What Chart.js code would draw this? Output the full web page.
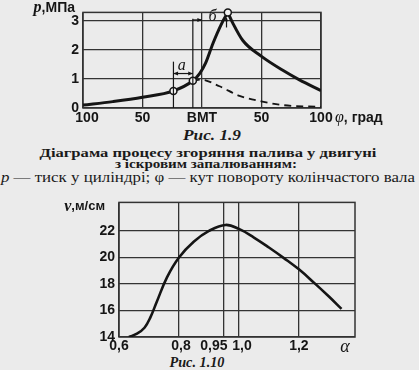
<!DOCTYPE html>
<html>
<head>
<meta charset="utf-8">
<script src="https://cdn.jsdelivr.net/npm/chart.js@4.4.1/dist/chart.umd.min.js"></script>
<style>
  html, body { margin: 0; padding: 0; }
  body { width: 419px; height: 370px; background: #ebebeb; position: relative; overflow: hidden;
         font-family: "Liberation Serif", serif; color: #1a1a1a; }
  .box { position: absolute; left: 0; width: 419px; }
  #box1 { top: 0; height: 130px; }
  #box2 { top: 190px; height: 180px; }
  .cap { position: absolute; white-space: nowrap; line-height: 1; }
</style>
</head>
<body>
<div class="cap" data-x="212" data-y="135" data-w="58" data-s="15" style="font-weight:bold;font-style:italic">Рис. 1.9</div>
<div class="cap" data-x="208" data-y="152.5" data-w="337" data-s="13.5" style="font-weight:bold">Діаграма процесу згоряння палива у двигуні</div>
<div class="cap" data-x="206" data-y="164" data-w="182" data-s="13.5" style="font-weight:bold">з іскровим запалюванням:</div>
<div class="cap" data-x="208" data-y="176.5" data-w="414" data-s="14.5"><i>p</i> — тиск у циліндрі; φ — кут повороту колінчастого вала</div>
<div class="cap" data-x="197" data-y="363" data-w="55" data-s="14" style="font-weight:bold;font-style:italic">Рис. 1.10</div>

<div class="box" id="box1"><canvas id="c1"></canvas></div>
<div class="box" id="box2"><canvas id="c2"></canvas></div>

<script>
// ---- Рис. 1.9: тиск p (МПа) від кута φ (град) ----
const phiRise = [-100, -75, -50, -24, -7.7, -2, 3, 9.1, 16.1, 21.7];
const pRise   = [0.1, 0.22, 0.37, 0.59, 0.94, 1.19, 1.55, 2.22, 2.88, 3.3];
const phiFall = [21.7, 25.9, 34.3, 49.7, 67.9, 81.9, 100];
const pFall   = [3.3, 2.93, 2.33, 1.79, 1.30, 0.97, 0.6];
const phiDash = [-7.7, -0.7, 14.7, 31.5, 49.7, 67.9, 100];
const pDash   = [0.94, 0.98, 0.75, 0.42, 0.23, 0.1, 0.04];
const phiMarks = [-24, -7.7, 21.7];
const pMarks   = [0.59, 0.94, 3.3];
const phiTicks = [-100, -50, 0, 50, 100];
const phiTickLabels = ['100', '50', 'ВМТ', '50', '100'];
const pTicks = [0, 1, 2, 3];

// ---- Рис. 1.10: швидкість v (м/с) від коефіцієнта α ----
const alpha = [0.633, 0.66, 0.685, 0.705, 0.725, 0.76, 0.8, 0.85, 0.9, 0.955, 1.0, 1.05, 1.1, 1.15, 1.2, 1.25, 1.3, 1.342];
const speed = [14.0, 14.25, 14.7, 15.5, 16.6, 18.5, 20.0, 21.2, 22.0, 22.45, 22.15, 21.5, 20.75, 19.95, 19.1, 18.1, 17.05, 16.12];
const alphaTicks = [0.6, 0.8, 0.95, 1.0, 1.2];
const alphaTickLabels = ['0,6', '0,8', '0,95', '1,0', '1,2'];
const vTicks = [14, 16, 18, 20, 22];

const ink = '#151515';
const gridInk = '#333';
const sans = '"Liberation Sans", Arial, sans-serif';
const serif = '"Liberation Serif", "Times New Roman", serif';

function pts(xs, ys) { return xs.map((x, i) => ({ x: x, y: ys[i] })); }

// captions: fixed size, squeezed/stretched to the width they have in the scan
document.querySelectorAll('.cap').forEach(el => {
  el.style.fontSize = el.dataset.s + 'px';
  const w = el.getBoundingClientRect().width;
  const k = (+el.dataset.w) / w;
  el.style.left = el.dataset.x + 'px';
  el.style.top = el.dataset.y + 'px';
  el.style.transform = 'translate(-50%, -50%) scaleX(' + k.toFixed(3) + ')';
});

// rich text: parts = [[text, font], ...]
function rich(ctx, parts, x, y, align) {
  let total = 0;
  parts.forEach(p => { ctx.font = p[1]; total += ctx.measureText(p[0]).width; });
  let cx = align === 'right' ? x - total : (align === 'center' ? x - total / 2 : x);
  ctx.textBaseline = 'middle';
  ctx.textAlign = 'left';
  parts.forEach(p => { ctx.font = p[1]; ctx.fillText(p[0], cx, y); cx += ctx.measureText(p[0]).width; });
}

function head(ctx, x1, y1, x2, y2, size) {
  const a = Math.atan2(y2 - y1, x2 - x1);
  ctx.beginPath();
  ctx.moveTo(x2, y2);
  ctx.lineTo(x2 - size * Math.cos(a - 0.4), y2 - size * Math.sin(a - 0.4));
  ctx.lineTo(x2 - size * Math.cos(a + 0.4), y2 - size * Math.sin(a + 0.4));
  ctx.closePath();
  ctx.fill();
}
function seg(ctx, x1, y1, x2, y2) {
  ctx.beginPath(); ctx.moveTo(x1, y1); ctx.lineTo(x2, y2); ctx.stroke();
}

function frame(chart) {
  const a = chart.chartArea, ctx = chart.ctx;
  ctx.save();
  ctx.strokeStyle = gridInk; ctx.lineWidth = 1.5;
  ctx.strokeRect(a.left, a.top, a.right - a.left, a.bottom - a.top);
  ctx.restore();
}

function setTicks(list) { return s => { s.ticks = list.map(v => ({ value: v })); }; }

const lineDs = (data, w, extra) => Object.assign({
  data: data, borderColor: ink, borderWidth: w, pointRadius: 0,
  cubicInterpolationMode: 'monotone', fill: false, order: 1
}, extra || {});

// dimension marks on Рис. 1.9 (in data units)
const aFrom = -24, aTo = -7.7, aLevel = 1.19;
const bFrom = -7.7, bTo = 0, bLevel = 3.04;

const fig19Extras = {
  id: 'fig19Extras',
  beforeDatasetsDraw(chart) { frame(chart); },
  afterDraw(chart) {
    const ctx = chart.ctx, x = chart.scales.x, y = chart.scales.y, a = chart.chartArea;
    ctx.save();
    ctx.strokeStyle = ink; ctx.fillStyle = ink; ctx.lineWidth = 1.2;
    // vertical guide lines
    seg(ctx, x.getPixelForValue(aFrom), y.getPixelForValue(1.6), x.getPixelForValue(aFrom), a.bottom);
    seg(ctx, x.getPixelForValue(aTo), y.getPixelForValue(3.08), x.getPixelForValue(aTo), a.bottom);
    // "a"
    const ya = y.getPixelForValue(aLevel), xa1 = x.getPixelForValue(aFrom), xa2 = x.getPixelForValue(aTo);
    seg(ctx, xa1, ya, xa2, ya);
    head(ctx, xa2, ya, xa1, ya, 5);
    head(ctx, xa1, ya, xa2, ya, 5);
    ctx.font = 'italic 16px ' + serif; ctx.textAlign = 'center'; ctx.textBaseline = 'middle';
    ctx.fillText('a', x.getPixelForValue(-17), y.getPixelForValue(1.45));
    // "б"
    const yb = y.getPixelForValue(bLevel), xb1 = x.getPixelForValue(bFrom), xb2 = x.getPixelForValue(bTo);
    seg(ctx, xb1, yb, xb2, yb);
    head(ctx, xb1, yb, xb2, yb, 5);
    ctx.fillText('б', x.getPixelForValue(8.8), y.getPixelForValue(3.14));
    const xp = x.getPixelForValue(20.6);
    seg(ctx, x.getPixelForValue(17.5), yb, xp, yb);
    seg(ctx, xp, y.getPixelForValue(2.78), xp, y.getPixelForValue(3.1));
    head(ctx, xp, y.getPixelForValue(2.78), xp, y.getPixelForValue(3.12), 4);
    // x tick labels
    ctx.fillStyle = ink;
    ctx.font = 'bold 14px ' + sans; ctx.textAlign = 'center'; ctx.textBaseline = 'middle';
    const nudge = [4, 0, 0, 0, 0];
    phiTicks.forEach((v, i) => ctx.fillText(phiTickLabels[i], x.getPixelForValue(v) + nudge[i], a.bottom + 10));
    rich(ctx, [['φ', 'italic 16px ' + serif], [', град', 'bold 14px ' + sans]], a.right + 14, a.bottom + 10, 'left');
    rich(ctx, [['p', 'italic bold 16px ' + serif], [',МПа', 'bold 14px ' + sans]], a.left - 8, 8, 'right');
    ctx.restore();
  }
};

new Chart(document.getElementById('c1'), {
  type: 'line',
  data: {
    datasets: [
      lineDs(pts(phiRise, pRise), 3),
      lineDs(pts(phiFall, pFall), 3),
      lineDs(pts(phiDash, pDash), 1.8, { borderDash: [7, 5] }),
      { data: pts(phiMarks, pMarks), showLine: false, pointRadius: 3.5, pointBackgroundColor: '#f2f2f2',
        pointBorderColor: ink, pointBorderWidth: 1.5, clip: false, order: 0 }
    ]
  },
  options: {
    responsive: true, maintainAspectRatio: false, animation: false,
    layout: { padding: { top: 7, right: 98, left: 0, bottom: 0 } },
    plugins: { legend: { display: false }, tooltip: { enabled: false } },
    scales: {
      x: {
        type: 'linear', min: -100, max: 100,
        afterBuildTicks: setTicks(phiTicks),
        afterFit: s => { s.height = 22; },
        ticks: { display: false },
        grid: { color: gridInk, lineWidth: 1.3, drawTicks: false },
        border: { display: false }
      },
      y: {
        min: 0, max: 3.3,
        afterBuildTicks: setTicks(pTicks),
        afterFit: s => { s.width = 83; },
        ticks: { color: ink, font: { family: sans, size: 14, weight: 'bold' }, padding: 4 },
        grid: { color: gridInk, lineWidth: 1.3, drawTicks: false },
        border: { display: false }
      }
    }
  },
  plugins: [fig19Extras]
});

const fig110Extras = {
  id: 'fig110Extras',
  beforeDatasetsDraw(chart) { frame(chart); },
  afterDraw(chart) {
    const ctx = chart.ctx, x = chart.scales.x, a = chart.chartArea;
    ctx.save();
    ctx.fillStyle = ink;
    ctx.font = 'bold 14px ' + sans; ctx.textAlign = 'center'; ctx.textBaseline = 'middle';
    const nudge = [0, 2, -10, 3, 0];
    alphaTicks.forEach((v, i) => ctx.fillText(alphaTickLabels[i], x.getPixelForValue(v) + nudge[i], a.bottom + 9));
    ctx.font = 'italic 18px ' + serif;
    ctx.fillText('α', a.right - 10, a.bottom + 10);
    rich(ctx, [['v', 'italic bold 16px ' + serif], [',м/см', 'bold 13px ' + sans]], a.left - 14, a.top + 4, 'right');
    ctx.restore();
  }
};

new Chart(document.getElementById('c2'), {
  type: 'line',
  data: {
    datasets: [ lineDs(pts(alpha, speed), 2.6, { cubicInterpolationMode: 'default', tension: 0.4 }) ]
  },
  options: {
    responsive: true, maintainAspectRatio: false, animation: false,
    layout: { padding: { top: 11, right: 64, left: 0, bottom: 0 } },
    plugins: { legend: { display: false }, tooltip: { enabled: false } },
    scales: {
      x: {
        type: 'linear', min: 0.6, max: 1.387,
        afterBuildTicks: setTicks(alphaTicks),
        afterFit: s => { s.height = 33; },
        ticks: { display: false },
        grid: { color: gridInk, lineWidth: 1.3, drawTicks: false },
        border: { display: false }
      },
      y: {
        min: 14, max: 24.15,
        afterBuildTicks: setTicks(vTicks),
        afterFit: s => { s.width = 119; },
        ticks: { color: ink, font: { family: sans, size: 14, weight: 'bold' }, padding: 4 },
        grid: { color: gridInk, lineWidth: 1.3, drawTicks: false },
        border: { display: false }
      }
    }
  },
  plugins: [fig110Extras]
});
</script>
</body>
</html>
